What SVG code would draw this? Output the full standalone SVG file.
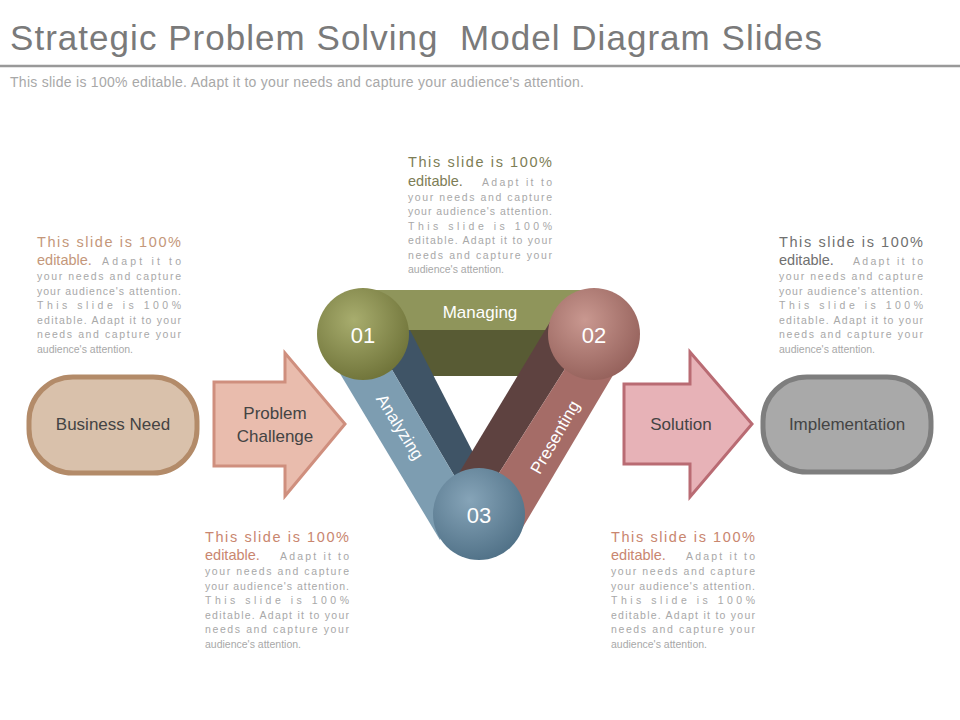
<svg xmlns="http://www.w3.org/2000/svg" width="960" height="720" viewBox="0 0 960 720">
<defs>
<style>
text{font-family:"Liberation Sans",Arial,sans-serif}
.big{font-size:14.5px}
.sm{font-size:10.5px;fill:#a8a8a8}
.lbl{font-size:17px;fill:#444}
.w{fill:#fff}
</style>
<radialGradient id="g1" cx="0.4" cy="0.35" r="0.7"><stop offset="0" stop-color="#a8ad6e"/><stop offset="1" stop-color="#6e7238"/></radialGradient>
<radialGradient id="g2" cx="0.4" cy="0.35" r="0.7"><stop offset="0" stop-color="#c99890"/><stop offset="1" stop-color="#94605a"/></radialGradient>
<radialGradient id="g3" cx="0.4" cy="0.35" r="0.7"><stop offset="0" stop-color="#86a4b8"/><stop offset="1" stop-color="#4f7086"/></radialGradient>
</defs>
<rect width="960" height="720" fill="#fff"/>
<text x="10" y="50" font-size="35" fill="#7a7a7a" xml:space="preserve" textLength="812">Strategic Problem Solving  Model Diagram Slides</text>
<line x1="0" y1="66" x2="960" y2="66" stroke="#999" stroke-width="2.5"/>
<text x="10" y="87" font-size="14" fill="#a8a8a8" textLength="574">This slide is 100% editable. Adapt it to your needs and capture your audience's attention.</text>

<g id="text-left">
<text x="37" y="247" class="big" fill="#c4977a" textLength="144">This slide is 100%</text>
<text x="37" y="265" class="big" fill="#c4977a">editable.</text>
<text x="102" y="265" class="sm" textLength="79">Adapt it to</text>
<text x="37" y="280" class="sm" textLength="144">your needs and capture</text>
<text x="37" y="295" class="sm" textLength="144">your audience's attention.</text>
<text x="37" y="309" class="sm" textLength="144">This slide is 100%</text>
<text x="37" y="324" class="sm" textLength="144">editable. Adapt it to your</text>
<text x="37" y="338" class="sm" textLength="144">needs and capture your</text>
<text x="37" y="353" class="sm">audience's attention.</text>
</g>
<g id="text-top">
<text x="408" y="167" class="big" fill="#7d7d55" textLength="144">This slide is 100%</text>
<text x="408" y="186" class="big" fill="#7d7d55">editable.</text>
<text x="482" y="186" class="sm" textLength="70">Adapt it to</text>
<text x="408" y="201" class="sm" textLength="144">your needs and capture</text>
<text x="408" y="215" class="sm" textLength="144">your audience's attention.</text>
<text x="408" y="230" class="sm" textLength="144">This slide is 100%</text>
<text x="408" y="244" class="sm" textLength="144">editable. Adapt it to your</text>
<text x="408" y="259" class="sm" textLength="144">needs and capture your</text>
<text x="408" y="273" class="sm">audience's attention.</text>
</g>
<g id="text-right">
<text x="779" y="247" class="big" fill="#707070" textLength="144">This slide is 100%</text>
<text x="779" y="265" class="big" fill="#707070">editable.</text>
<text x="853" y="265" class="sm" textLength="70">Adapt it to</text>
<text x="779" y="280" class="sm" textLength="144">your needs and capture</text>
<text x="779" y="295" class="sm" textLength="144">your audience's attention.</text>
<text x="779" y="309" class="sm" textLength="144">This slide is 100%</text>
<text x="779" y="324" class="sm" textLength="144">editable. Adapt it to your</text>
<text x="779" y="338" class="sm" textLength="144">needs and capture your</text>
<text x="779" y="353" class="sm">audience's attention.</text>
</g>
<g id="text-bl">
<text x="205" y="542" class="big" fill="#c9866f" textLength="144">This slide is 100%</text>
<text x="205" y="560" class="big" fill="#c9866f">editable.</text>
<text x="280" y="560" class="sm" textLength="69">Adapt it to</text>
<text x="205" y="575" class="sm" textLength="144">your needs and capture</text>
<text x="205" y="590" class="sm" textLength="144">your audience's attention.</text>
<text x="205" y="604" class="sm" textLength="144">This slide is 100%</text>
<text x="205" y="619" class="sm" textLength="144">editable. Adapt it to your</text>
<text x="205" y="633" class="sm" textLength="144">needs and capture your</text>
<text x="205" y="648" class="sm">audience's attention.</text>
</g>
<g id="text-br">
<text x="611" y="542" class="big" fill="#c9866f" textLength="144">This slide is 100%</text>
<text x="611" y="560" class="big" fill="#c9866f">editable.</text>
<text x="686" y="560" class="sm" textLength="69">Adapt it to</text>
<text x="611" y="575" class="sm" textLength="144">your needs and capture</text>
<text x="611" y="590" class="sm" textLength="144">your audience's attention.</text>
<text x="611" y="604" class="sm" textLength="144">This slide is 100%</text>
<text x="611" y="619" class="sm" textLength="144">editable. Adapt it to your</text>
<text x="611" y="633" class="sm" textLength="144">needs and capture your</text>
<text x="611" y="648" class="sm">audience's attention.</text>
</g>

<g id="business-need">
<rect x="29" y="377" width="168" height="96" rx="44" fill="#d9c1ab" stroke="#b38b69" stroke-width="5"/>
<text x="113" y="430" class="lbl" text-anchor="middle">Business Need</text>
</g>
<g id="problem-challenge">
<polygon points="214,382 285,382 285,353 345,424 285,496 285,466 214,466" fill="#e9bcad" stroke="#cf8f7e" stroke-width="3"/>
<text x="275" y="419" class="lbl" text-anchor="middle">Problem</text>
<text x="275" y="442" class="lbl" text-anchor="middle">Challenge</text>
</g>
<g id="solution">
<polygon points="624,384 690,384 690,352 752,424 690,497 690,464 624,464" fill="#e7b2b7" stroke="#b96b73" stroke-width="3"/>
<text x="681" y="430" class="lbl" text-anchor="middle">Solution</text>
</g>
<g id="implementation">
<rect x="763" y="377" width="168" height="95" rx="44" fill="#a9a9a9" stroke="#7e7e7e" stroke-width="5"/>
<text x="847" y="430" class="lbl" text-anchor="middle">Implementation</text>
</g>

<g id="managing">
<polygon points="370,290 590,290 567,330 395,330" fill="#8f955b"/>
<polygon points="395,330 567,330 542,376 413,376" fill="#585b34"/>
<text x="480" y="318" font-size="17" class="w" text-anchor="middle">Managing</text>
</g>
<g id="analyzing">
<polygon points="378,346 410,330 482,470 458,482" fill="#3f5466"/>
<polygon points="333,362 378,346 458,482 440,540" fill="#7d9db1"/>
<text transform="translate(395,430) rotate(58)" font-size="17" class="w" text-anchor="middle">Analyzing</text>
</g>
<g id="presenting">
<polygon points="550,322 582,342 487,492 456,478" fill="#5e4240"/>
<polygon points="582,342 625,355 520,532 487,492" fill="#a56c67"/>
<text transform="translate(560,440) rotate(-60)" font-size="17" class="w" text-anchor="middle">Presenting</text>
</g>

<g id="node-01"><circle cx="363" cy="334" r="46" fill="url(#g1)"/><text x="363" y="343" font-size="22" class="w" text-anchor="middle">01</text></g>
<g id="node-02"><circle cx="594" cy="334" r="46" fill="url(#g2)"/><text x="594" y="343" font-size="22" class="w" text-anchor="middle">02</text></g>
<g id="node-03"><circle cx="479" cy="514" r="46" fill="url(#g3)"/><text x="479" y="523" font-size="22" class="w" text-anchor="middle">03</text></g>
<g id="connectors"></g>
</svg>
